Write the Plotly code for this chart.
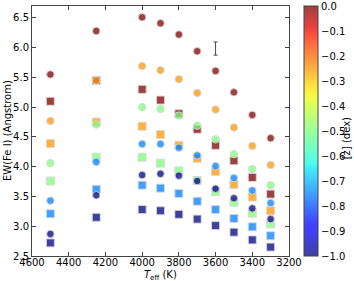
import numpy as np
import plotly.graph_objects as go

teff = [4500, 4250, 4000, 3900, 3800, 3700, 3600, 3500, 3400, 3300]
feh_levels = [0.0, -0.25, -0.5, -0.75, -1.0]

ew_circles = {
    0.0:   [5.55, 6.28, 6.51, 6.41, 6.22, 5.94, 5.61, 5.25, 4.87, 4.48],
    -0.25: [4.77, 5.45, 5.69, 5.62, 5.47, 5.24, 4.96, 4.66, 4.35, 4.03],
    -0.5:  [4.06, 4.71, 5.00, 4.97, 4.86, 4.69, 4.46, 4.21, 3.96, 3.69],
    -0.75: [3.43, 4.08, 4.38, 4.38, 4.32, 4.19, 4.01, 3.81, 3.60, 3.39],
    -1.0:  [2.87, 3.52, 3.86, 3.88, 3.85, 3.76, 3.63, 3.47, 3.30, 3.12],
}
ew_squares = {
    0.0:   [5.10, 5.45, 5.30, 5.12, 4.89, 4.63, 4.36, 4.10, 3.82, 3.54],
    -0.25: [4.39, 4.75, 4.68, 4.54, 4.36, 4.14, 3.92, 3.70, 3.49, 3.26],
    -0.5:  [3.76, 4.16, 4.16, 4.06, 3.93, 3.77, 3.58, 3.40, 3.22, 3.04],
    -0.75: [3.21, 3.62, 3.69, 3.64, 3.55, 3.42, 3.28, 3.13, 2.99, 2.84],
    -1.0:  [2.72, 3.15, 3.28, 3.26, 3.20, 3.12, 3.01, 2.90, 2.77, 2.65],
}

err_x = [3600]
err_y = [5.985]
err_size = [0.11]

x_ticks = [4600, 4400, 4200, 4000, 3800, 3600, 3400, 3200]
y_ticks = [2.5, 3.0, 3.5, 4.0, 4.5, 5.0, 5.5, 6.0, 6.5]
cb_ticks = [0.0, -0.1, -0.2, -0.3, -0.4, -0.5, -0.6, -0.7, -0.8, -0.9, -1.0]
cb_ticktext = ["0.0", "\u22120.1", "\u22120.2", "\u22120.3", "\u22120.4", "\u22120.5",
               "\u22120.6", "\u22120.7", "\u22120.8", "\u22120.9", "\u22121.0"]

# matplotlib 'jet' colormap with alpha
def jet(t):
    r = np.interp(t, [0, 0.35, 0.66, 0.89, 1], [0, 0, 1, 1, 0.5])
    g = np.interp(t, [0, 0.125, 0.375, 0.64, 0.91, 1], [0, 0, 1, 1, 0, 0])
    b = np.interp(t, [0, 0.11, 0.34, 0.65, 1], [0.5, 1, 1, 0, 0])
    return r, g, b

alpha = 0.75
scale = []
for t in np.linspace(0, 1, 41):
    r, g, b = jet(t)
    scale.append([float(t), f"rgba({int(r*255)},{int(g*255)},{int(b*255)},{alpha})"])

font = dict(family="DejaVu Sans", size=10, color="black")

fig = go.Figure()

def add(symbol, data, size, show_cb):
    xs, ys, cs = [], [], []
    for f in feh_levels:
        xs += teff
        ys += data[f]
        cs += [f] * len(teff)
    fig.add_trace(go.Scatter(
        x=xs, y=ys, mode="markers",
        marker=dict(symbol=symbol, size=size,
                    color=cs, colorscale=scale, cmin=-1.0, cmax=0.0,
                    line=dict(color="rgba(215,215,215,0.9)", width=1),
                    showscale=show_cb,
                    colorbar=dict(
                        x=1.058, xanchor="left", xref="paper",
                        y=0.5, yanchor="middle", len=1.0, lenmode="fraction",
                        thickness=14, ypad=0, xpad=0,
                        outlinecolor="#444", outlinewidth=1,
                        tickvals=cb_ticks, ticktext=cb_ticktext,
                        ticks="", tickfont=font,
                    )),
        showlegend=False, hoverinfo="skip"))

add("square", ew_squares, 8, False)
add("circle", ew_circles, 7.5, True)

fig.add_trace(go.Scatter(
    x=err_x, y=err_y, mode="markers",
    marker=dict(size=1, color="rgba(0,0,0,0)"),
    error_y=dict(type="data", array=err_size, color="#444", thickness=1, width=2),
    showlegend=False, hoverinfo="skip"))

axis_common = dict(showgrid=False, zeroline=False, showline=True, linecolor="#444",
                   linewidth=1, mirror="ticks", ticks="inside", ticklen=4,
                   tickcolor="#444", tickfont=font, automargin=False)

fig.update_layout(
    width=354, height=281,
    margin=dict(l=32, r=65, t=6, b=25),
    paper_bgcolor="white", plot_bgcolor="white",
    font=font,
    xaxis=dict(range=[4600, 3200], tickvals=x_ticks, ticklabelstandoff=-3,
               **axis_common),
    yaxis=dict(range=[2.5, 6.7], tickvals=y_ticks, tickformat=".1f", **axis_common),
    annotations=[
        dict(text="<i>T</i><sub>eff</sub> (K)", xref="paper", yref="paper",
             x=0.5, y=0, yanchor="middle", yshift=-19, showarrow=False, font=font),
        dict(text="EW(Fe I) (Angstrom)", xref="paper", yref="paper",
             x=0, y=0.5, xanchor="center", xshift=-25, textangle=-90,
             showarrow=False, font=font),
        dict(text="[z] (dex)", xref="paper", yref="paper",
             x=1.225, y=0.47, xanchor="center", yanchor="middle", textangle=-90,
             showarrow=False, font=font),
    ],
)

fig.write_html("out.html", config={"displayModeBar": False},
               post_script="document.body.style.margin='0';")
